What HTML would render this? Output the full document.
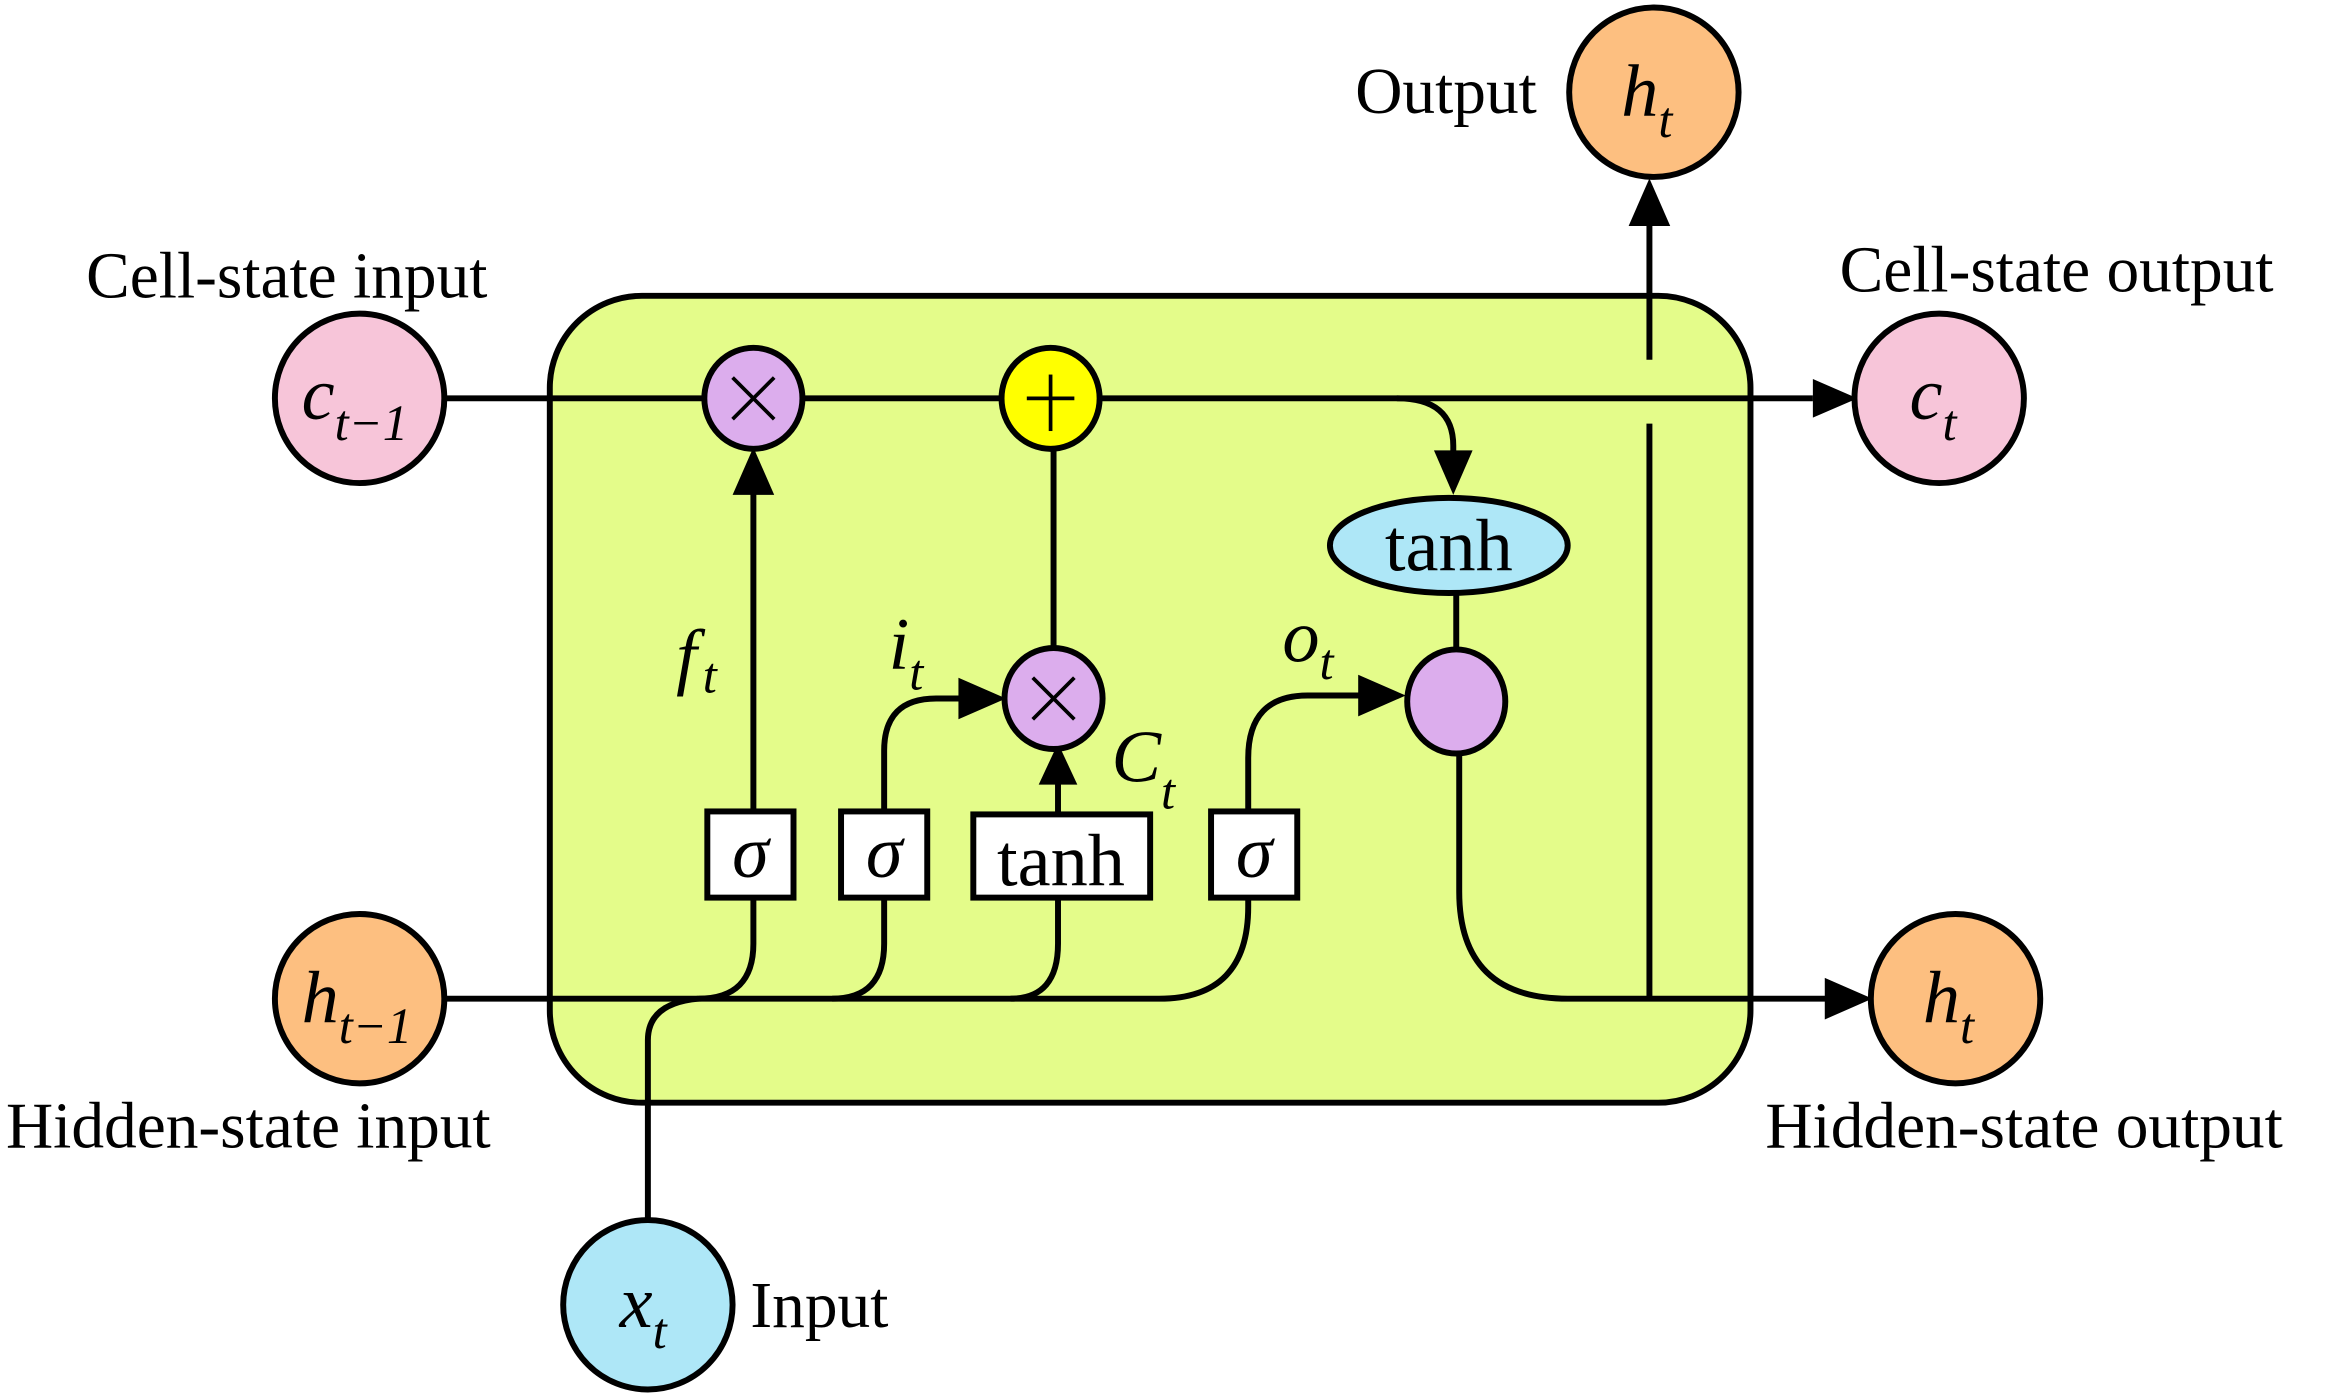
<!DOCTYPE html>
<html><head><meta charset="utf-8"><style>html,body{margin:0;padding:0;background:#fff}svg{display:block}</style></head>
<body>
<svg width="2330" height="1397" viewBox="0 0 1568 940" xmlns="http://www.w3.org/2000/svg" font-family="Liberation Serif, serif">
<defs>
<marker id="a" viewBox="0 0 10 10" refX="10" refY="5" markerWidth="9" markerHeight="9" markerUnits="userSpaceOnUse" orient="auto"><path d="M0,0 L10,5 L0,10z"/></marker>
</defs>
<g stroke="#000" stroke-width="4" fill="none">
<rect x="370" y="199" width="808" height="543" rx="62" fill="#e4fc8a"/>
<!-- cell line -->
<line x1="299" y1="268" x2="1220" y2="268"/>
<path d="M1220,255 L1250,268 L1220,281z" fill="#000" stroke="none"/>
<!-- branch to tanh -->
<path d="M940,268 Q978,268 978,300 L978,305"/>
<path d="M965,303 L978,333 L991,303z" fill="#000" stroke="none"/>
<!-- tanh ellipse to circle -->
<line x1="980" y1="398" x2="980" y2="440"/>
<!-- circle down to h out -->
<path d="M982,505 L982,600 Q982,672 1055,672 L1230,672"/>
<path d="M1228,658 L1260,672 L1228,686z" fill="#000" stroke="none"/>
<!-- vertical up to output -->
<line x1="1110" y1="672" x2="1110" y2="285"/>
<line x1="1110" y1="242" x2="1110" y2="150"/>
<path d="M1096,152 L1110,120 L1124,152z" fill="#000" stroke="none"/>
<!-- h line -->
<path d="M299,672 L780,672 Q840,672 840,610 L840,604"/>
<path d="M436,820 L436,700 Q436,675 470,672"/>
<path d="M470,672 Q507,672 507,635 L507,604"/>
<path d="M560,672 Q595,672 595,635 L595,604"/>
<path d="M680,672 Q712,672 712,635 L712,604"/>
<!-- f_t -->
<line x1="507" y1="545" x2="507" y2="330"/>
<path d="M493,333 L507,301 L521,333z" fill="#000" stroke="none"/>
<!-- i_t -->
<path d="M595,545 L595,505 Q595,470 630,470 L650,470"/>
<path d="M645,456 L677,470 L645,484z" fill="#000" stroke="none"/>
<!-- tanh box to x -->
<line x1="712" y1="548" x2="712" y2="525"/>
<path d="M699,528 L712,500 L725,528z" fill="#000" stroke="none"/>
<!-- + down -->
<line x1="709" y1="301" x2="709" y2="437"/>
<!-- o_t -->
<path d="M840,545 L840,510 Q840,468 880,468 L918,468"/>
<path d="M914,454 L946,468 L914,482z" fill="#000" stroke="none"/>
<!-- nodes -->
<ellipse cx="507" cy="268" rx="33" ry="34" fill="#dcaded"/>
<ellipse cx="707" cy="268" rx="33" ry="34" fill="#ffff00"/>
<ellipse cx="709" cy="470" rx="33" ry="34" fill="#dcaded"/>
<ellipse cx="980" cy="472" rx="33" ry="35" fill="#dcaded"/>
<ellipse cx="975" cy="367" rx="80" ry="32" fill="#aee7f7"/>
<rect x="476" y="546" width="58" height="58" fill="#fff"/>
<rect x="566" y="546" width="58" height="58" fill="#fff"/>
<rect x="655" y="548" width="119" height="56" fill="#fff"/>
<rect x="815" y="546" width="58" height="58" fill="#fff"/>
<circle cx="242" cy="268" r="57" fill="#f7c5d9"/>
<circle cx="242" cy="672" r="57" fill="#fdbf80"/>
<circle cx="436" cy="878" r="57" fill="#aee7f7"/>
<circle cx="1113" cy="62" r="57" fill="#fdbf80"/>
<circle cx="1305" cy="268" r="57" fill="#f7c5d9"/>
<circle cx="1316" cy="672" r="57" fill="#fdbf80"/>
</g>
<g stroke="#000" stroke-width="2.5">
<line x1="493" y1="254" x2="521" y2="282"/><line x1="521" y1="254" x2="493" y2="282"/>
<line x1="695" y1="456" x2="723" y2="484"/><line x1="723" y1="456" x2="695" y2="484"/>
<line x1="691" y1="268" x2="723" y2="268"/><line x1="707" y1="252" x2="707" y2="290"/>
</g>
<g font-size="44" fill="#000">
<text x="58" y="200">Cell-state input</text>
<text x="4" y="772">Hidden-state input</text>
<text x="505" y="893">Input</text>
<text x="912" y="76">Output</text>
<text x="1238" y="196">Cell-state output</text>
<text x="1188" y="772">Hidden-state output</text>
<text x="975" y="384" text-anchor="middle" font-size="50">tanh</text>
<text x="714" y="596" text-anchor="middle" font-size="50">tanh</text>
<g font-style="italic">
<text x="505" y="590" text-anchor="middle" font-size="50">σ</text>
<text x="595" y="590" text-anchor="middle" font-size="50">σ</text>
<text x="844" y="590" text-anchor="middle" font-size="50">σ</text>
<text x="203" y="282" font-size="50">c<tspan font-size="34" dy="14">t−1</tspan></text>
<text x="203" y="688" font-size="50">h<tspan font-size="34" dy="14">t−1</tspan></text>
<text x="417" y="893" font-size="50">x<tspan font-size="34" dy="14">t</tspan></text>
<text x="1091" y="78" font-size="50">h<tspan font-size="34" dy="14">t</tspan></text>
<text x="1285" y="282" font-size="50">c<tspan font-size="34" dy="14">t</tspan></text>
<text x="1294" y="688" font-size="50">h<tspan font-size="34" dy="14">t</tspan></text>
<text x="455" y="458" font-size="50">f<tspan font-size="34" dy="8" dx="4">t</tspan></text>
<text x="598" y="450" font-size="50">i<tspan font-size="34" dy="14">t</tspan></text>
<text x="748" y="526" font-size="50">C<tspan font-size="34" dy="18">t</tspan></text>
<text x="863" y="445" font-size="50">o<tspan font-size="34" dy="12">t</tspan></text>
</g>
</g>
</svg>
</body></html>
